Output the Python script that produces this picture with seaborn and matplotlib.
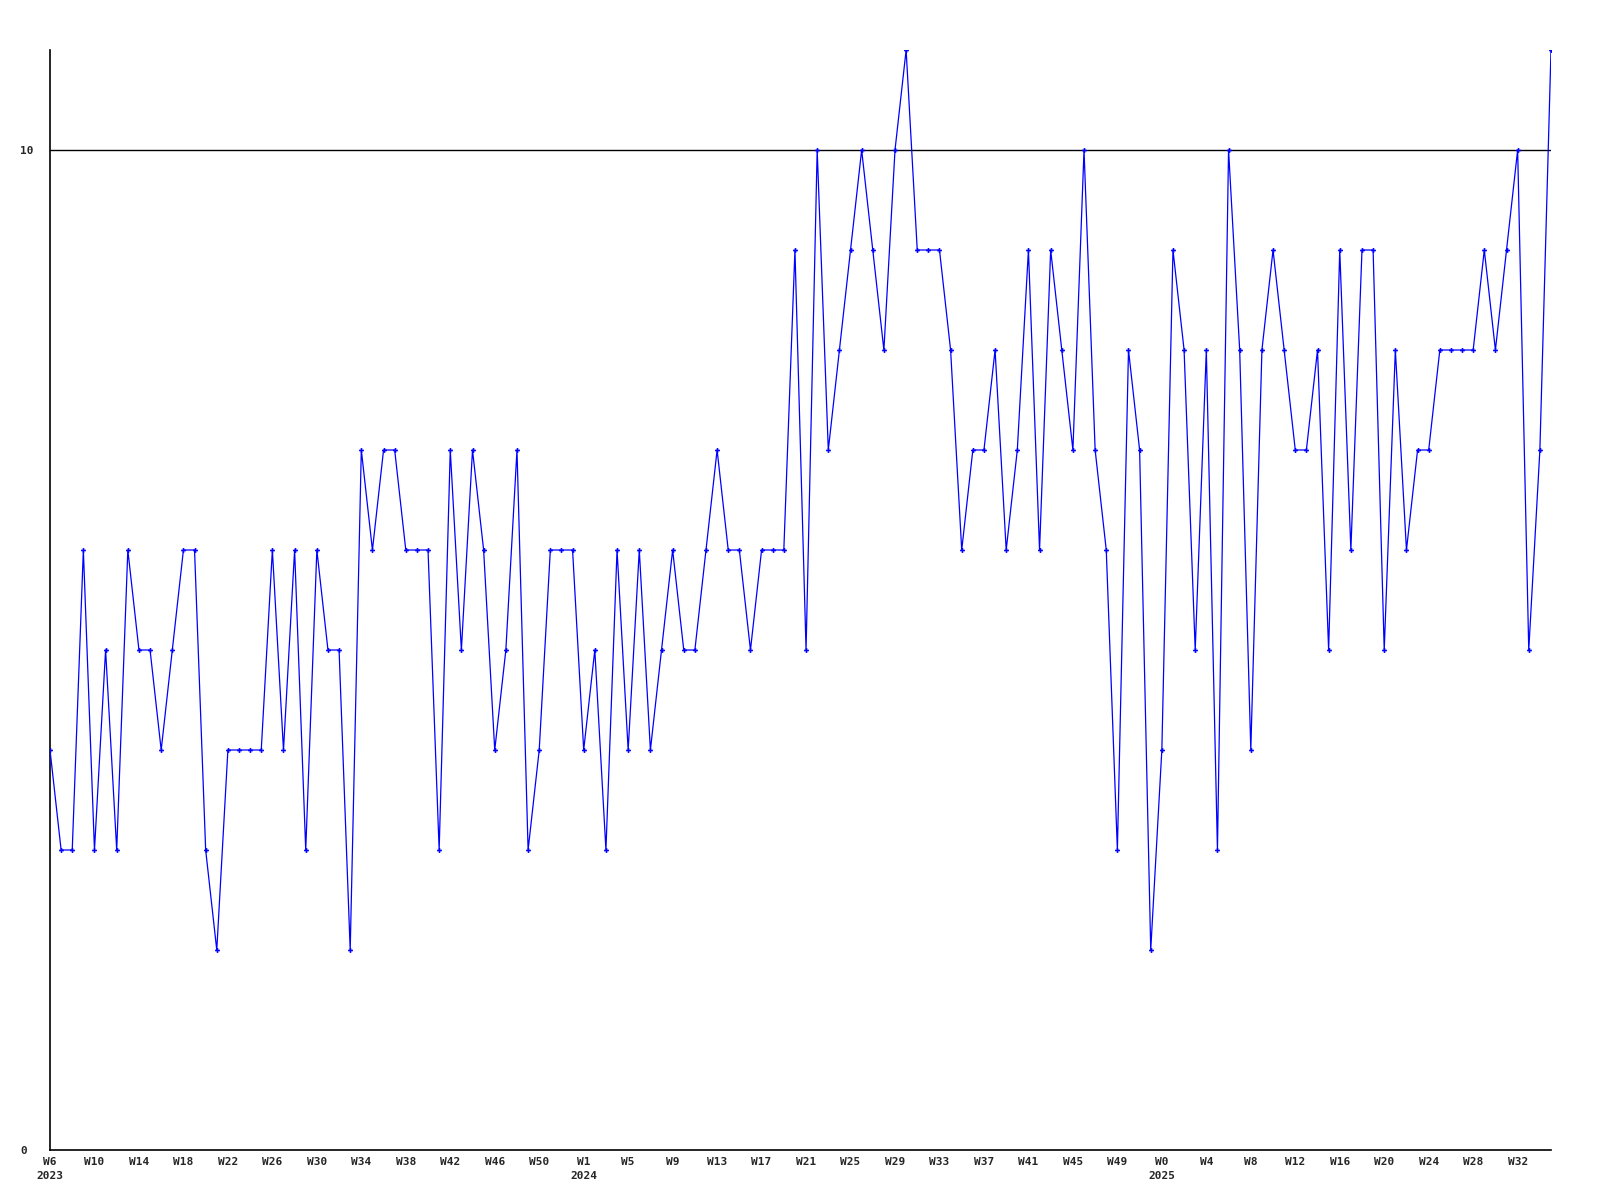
import numpy as np
import pandas as pd
import matplotlib
matplotlib.use("Agg")
import matplotlib.pyplot as plt
import seaborn as sns

# weekly values, one per week starting 2023 W6
values = [
    4, 3, 3, 6, 3, 5, 3, 6, 5, 5, 4, 5, 6, 6, 3, 2, 4, 4, 4, 4,
    6, 4, 6, 3, 6, 5, 5, 2, 7, 6, 7, 7, 6, 6, 6, 3, 7, 5, 7, 6,
    4, 5, 7, 3, 4, 6, 6, 6, 4, 5, 3, 6, 4, 6, 4, 5, 6, 5, 5, 6,
    7, 6, 6, 5, 6, 6, 6, 9, 5, 10, 7, 8, 9, 10, 9, 8, 10, 11, 9, 9,
    9, 8, 6, 7, 7, 8, 6, 7, 9, 6, 9, 8, 7, 10, 7, 6, 3, 8, 7, 2,
    4, 9, 8, 5, 8, 3, 10, 8, 4, 8, 9, 8, 7, 7, 8, 5, 9, 6, 9, 9,
    5, 8, 6, 7, 7, 8, 8, 8, 8, 9, 8, 9, 10, 5, 7, 11,
]

# tick labels, every 4th week
tick_labels = [
    "W6\n2023", "W10", "W14", "W18", "W22", "W26", "W30", "W34", "W38", "W42", "W46", "W50",
    "W1\n2024", "W5", "W9", "W13", "W17", "W21", "W25", "W29", "W33", "W37", "W41", "W45", "W49",
    "W0\n2025", "W4", "W8", "W12", "W16", "W20", "W24", "W28", "W32",
]
y_ticks = [0, 10]

df = pd.DataFrame({"idx": np.arange(len(values)), "value": values})

sns.set_style("white")
plt.rcParams["font.family"] = ["DejaVu Sans Mono"]

fig = plt.figure(figsize=(16, 12), dpi=100)
ax = fig.add_axes([50 / 1600, 50 / 1200, 1501 / 1600, 1100 / 1200])

ax.axhline(10, color="black", linewidth=1.0, zorder=1)
sns.lineplot(data=df, x="idx", y="value", ax=ax, color="#0000ff", linewidth=0.9,
             marker="P", markersize=3.5, markeredgewidth=0, zorder=3)

ax.set_xlim(0, len(values) - 1)
ax.set_ylim(0, 11)
ax.set_xlabel("")
ax.set_ylabel("")

ax.set_xticks(range(0, len(values), 4))
ax.set_xticklabels(tick_labels, fontsize=8, fontweight="bold")
ax.set_yticks(y_ticks)
ax.set_yticklabels([str(t) for t in y_ticks], fontsize=8, fontweight="bold")
ax.tick_params(axis="x", length=0, pad=5)
ax.tick_params(axis="y", length=0, pad=21.6)
for lab in ax.get_xticklabels():
    lab.set_linespacing(1.5)
    lab.set_verticalalignment("top")
for lab in ax.get_yticklabels():
    lab.set_horizontalalignment("left")

for side in ["top", "right"]:
    ax.spines[side].set_visible(False)
for side in ["left", "bottom"]:
    ax.spines[side].set_color("black")
    ax.spines[side].set_linewidth(1.2)

fig.savefig("out.png", dpi=100)
